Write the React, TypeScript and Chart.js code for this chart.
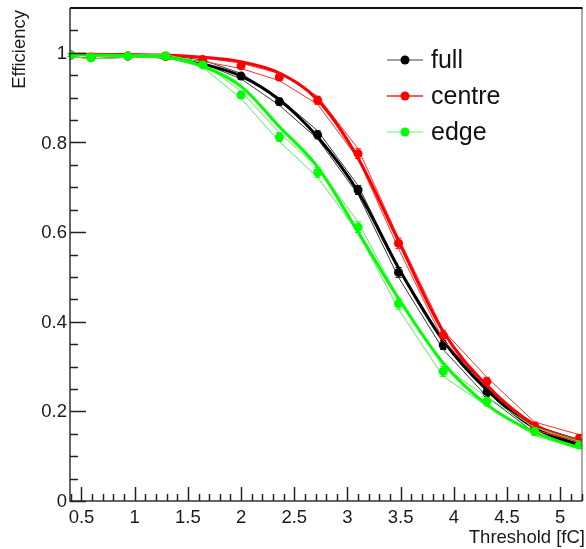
import React, { useEffect, useRef } from "react";
import { Chart, registerables } from "chart.js";

Chart.register(...registerables);

// Threshold settings [fC]
const thresholds = [0.4, 0.59, 0.935, 1.29, 1.64, 2.0, 2.36, 2.72, 3.1, 3.48, 3.9, 4.31, 4.76, 5.18];

// Measured efficiency per region
const fullEff = [0.995, 0.99, 0.993, 0.992, 0.98, 0.948, 0.891, 0.817, 0.694, 0.51, 0.348, 0.242, 0.16, 0.13];
const centreEff = [0.995, 0.99, 0.993, 0.993, 0.985, 0.971, 0.946, 0.894, 0.775, 0.575, 0.37, 0.266, 0.167, 0.14];
const edgeEff = [0.995, 0.989, 0.993, 0.993, 0.973, 0.906, 0.812, 0.733, 0.611, 0.44, 0.289, 0.222, 0.155, 0.125];

// Statistical uncertainties
const fullErr = [0.003, 0.003, 0.003, 0.003, 0.004, 0.006, 0.008, 0.009, 0.01, 0.011, 0.01, 0.009, 0.008, 0.007];
const centreErr = [0.003, 0.003, 0.003, 0.003, 0.004, 0.006, 0.008, 0.009, 0.011, 0.012, 0.011, 0.01, 0.009, 0.008];
const edgeErr = [0.003, 0.003, 0.003, 0.003, 0.005, 0.008, 0.01, 0.011, 0.012, 0.012, 0.011, 0.01, 0.009, 0.008];

// Fitted efficiency curves evaluated at the same thresholds
const fullFit = [0.996, 0.996, 0.995, 0.99, 0.975, 0.948, 0.895, 0.812, 0.69, 0.52, 0.358, 0.248, 0.163, 0.125];
const centreFit = [0.997, 0.997, 0.996, 0.995, 0.99, 0.98, 0.955, 0.895, 0.765, 0.58, 0.378, 0.258, 0.17, 0.133];
const edgeFit = [0.996, 0.995, 0.994, 0.99, 0.97, 0.925, 0.835, 0.745, 0.6, 0.452, 0.308, 0.215, 0.153, 0.118];

const xTickLabels = ["0.5", "1", "1.5", "2", "2.5", "3", "3.5", "4", "4.5", "5"];
const yTickLabels = ["0", "0.2", "0.4", "0.6", "0.8", "1"];

const legendNames = ["full", "centre", "edge"];

const X_MIN = 0.392;
const X_MAX = 5.2;
const Y_MIN = 0;
const Y_MAX = 1.1;

const FONT = '"Liberation Sans", Arial, Helvetica, sans-serif';

type Series = {
  name: string;
  eff: number[];
  err: number[];
  fit: number[];
  color: string;
  thin: string;
  legendLine: string;
};

const series: Series[] = [
  { name: legendNames[0], eff: fullEff, err: fullErr, fit: fullFit, color: "#000000", thin: "#3a3a3a", legendLine: "#808080" },
  { name: legendNames[1], eff: centreEff, err: centreErr, fit: centreFit, color: "#ff0000", thin: "#ff3030", legendLine: "#ff2020" },
  { name: legendNames[2], eff: edgeEff, err: edgeErr, fit: edgeFit, color: "#00ff00", thin: "#50f550", legendLine: "#90ff90" },
];

const pts = (ys: number[]) => thresholds.map((x, i) => ({ x, y: ys[i] }));

const frameAndLabels = {
  id: "frameAndLabels",
  beforeDatasetsDraw(chart: any) {
    const { ctx, scales } = chart;
    const xs = scales.x;
    const ys = scales.y;
    ctx.save();
    // error bars
    series.forEach((s) => {
      ctx.strokeStyle = s.color;
      ctx.lineWidth = 1;
      thresholds.forEach((x, i) => {
        const px = xs.getPixelForValue(x);
        const top = ys.getPixelForValue(s.eff[i] + s.err[i]);
        const bot = ys.getPixelForValue(s.eff[i] - s.err[i]);
        ctx.beginPath();
        ctx.moveTo(px, top);
        ctx.lineTo(px, bot);
        ctx.moveTo(px - 3, top);
        ctx.lineTo(px + 3, top);
        ctx.moveTo(px - 3, bot);
        ctx.lineTo(px + 3, bot);
        ctx.stroke();
      });
    });
    ctx.restore();
  },
  afterDraw(chart: any) {
    const { ctx, chartArea, scales } = chart;
    const xs = scales.x;
    const ys = scales.y;
    const { left, right, top, bottom } = chartArea;
    ctx.save();

    // frame
    ctx.strokeStyle = "#555";
    ctx.lineWidth = 1;
    ctx.beginPath();
    ctx.moveTo(right + 0.5, top);
    ctx.lineTo(right + 0.5, bottom);
    ctx.stroke();
    ctx.strokeStyle = "#111";
    ctx.lineWidth = 2;
    ctx.beginPath();
    ctx.moveTo(left, top);
    ctx.lineTo(right + 1, top);
    ctx.stroke();
    ctx.strokeStyle = "#333";
    ctx.lineWidth = 1.5;
    ctx.beginPath();
    ctx.moveTo(left, top);
    ctx.lineTo(left, bottom);
    ctx.lineTo(right + 1, bottom);
    ctx.stroke();

    // x ticks (inside)
    ctx.strokeStyle = "#222";
    ctx.lineWidth = 1.5;
    for (let k = 4; k <= 52; k++) {
      const v = k / 10;
      if (v < X_MIN || v > X_MAX) continue;
      const px = Math.round(xs.getPixelForValue(v)) + 0.5;
      const major = k % 5 === 0;
      ctx.beginPath();
      ctx.moveTo(px, bottom);
      ctx.lineTo(px, bottom - (major ? 14 : 7));
      ctx.stroke();
    }
    // y ticks (inside)
    for (let k = 0; k <= 21; k++) {
      const v = k * 0.05;
      const py = Math.round(ys.getPixelForValue(v)) + 0.5;
      const major = k % 4 === 0;
      ctx.beginPath();
      ctx.moveTo(left, py);
      ctx.lineTo(left + (major ? 16 : 8), py);
      ctx.stroke();
    }

    // tick labels
    ctx.fillStyle = "#1a1a1a";
    ctx.font = `18.5px ${FONT}`;
    ctx.textAlign = "center";
    ctx.textBaseline = "top";
    xTickLabels.forEach((t) => {
      ctx.fillText(t, xs.getPixelForValue(parseFloat(t)), bottom + 8);
    });
    ctx.textAlign = "right";
    ctx.textBaseline = "middle";
    yTickLabels.forEach((t) => {
      ctx.fillText(t, left - 3, ys.getPixelForValue(parseFloat(t)) + 1);
    });

    // axis titles
    ctx.textAlign = "right";
    ctx.textBaseline = "alphabetic";
    ctx.fillText("Threshold [fC]", 585, 543);
    ctx.save();
    ctx.translate(25, 10);
    ctx.rotate(-Math.PI / 2);
    ctx.textAlign = "right";
    ctx.fillText("Efficiency", 0, 0);
    ctx.restore();

    // legend
    const rows = [60, 96, 132];
    series.forEach((s, i) => {
      const y = rows[i];
      ctx.strokeStyle = s.legendLine;
      ctx.lineWidth = 1.5;
      ctx.beginPath();
      ctx.moveTo(387, y);
      ctx.lineTo(423, y);
      ctx.stroke();
      ctx.fillStyle = s.color;
      ctx.beginPath();
      ctx.arc(405, y, 4.5, 0, Math.PI * 2);
      ctx.fill();
      ctx.fillStyle = "#111";
      ctx.font = `25px ${FONT}`;
      ctx.textAlign = "left";
      ctx.textBaseline = "middle";
      ctx.fillText(s.name, 431, y + 1);
    });

    ctx.restore();
  },
};

export default function App() {
  const ref = useRef<HTMLCanvasElement>(null);

  useEffect(() => {
    if (!ref.current) return;
    const datasets: any[] = [];
    // later series are listed first so they are drawn on top
    [...series].reverse().forEach((s) => {
      datasets.push({
        label: s.name,
        data: pts(s.eff),
        showLine: false,
        pointRadius: 4.5,
        pointBackgroundColor: s.color,
        pointBorderColor: s.color,
        pointBorderWidth: 0,
      });
      datasets.push({
        label: s.name + " fit",
        data: pts(s.fit),
        borderColor: s.color,
        borderWidth: 3,
        pointRadius: 0,
        cubicInterpolationMode: "monotone",
        fill: false,
      });
      datasets.push({
        label: s.name + " up",
        data: thresholds.map((x, i) => ({ x, y: s.eff[i] + s.err[i] })),
        borderColor: s.thin,
        borderWidth: 1,
        pointRadius: 0,
        tension: 0,
        fill: false,
      });
      datasets.push({
        label: s.name + " down",
        data: thresholds.map((x, i) => ({ x, y: s.eff[i] - s.err[i] })),
        borderColor: s.thin,
        borderWidth: 1,
        pointRadius: 0,
        tension: 0,
        fill: false,
      });
    });

    const chart = new Chart(ref.current, {
      type: "line",
      data: { datasets },
      options: {
        animation: false,
        responsive: false,
        devicePixelRatio: 1,
        layout: { padding: { left: 70, right: 2, top: 8, bottom: 48 } },
        scales: {
          x: { type: "linear", min: X_MIN, max: X_MAX, display: false },
          y: { type: "linear", min: Y_MIN, max: Y_MAX, display: false },
        },
        plugins: { legend: { display: false }, tooltip: { enabled: false } },
      },
      plugins: [frameAndLabels],
    });
    return () => chart.destroy();
  }, []);

  return (
    <div style={{ position: "fixed", left: 0, top: 0, width: 586, height: 549, background: "#fff" }}>
      <canvas ref={ref} width={586} height={549} style={{ width: 586, height: 549, display: "block" }} />
    </div>
  );
}
